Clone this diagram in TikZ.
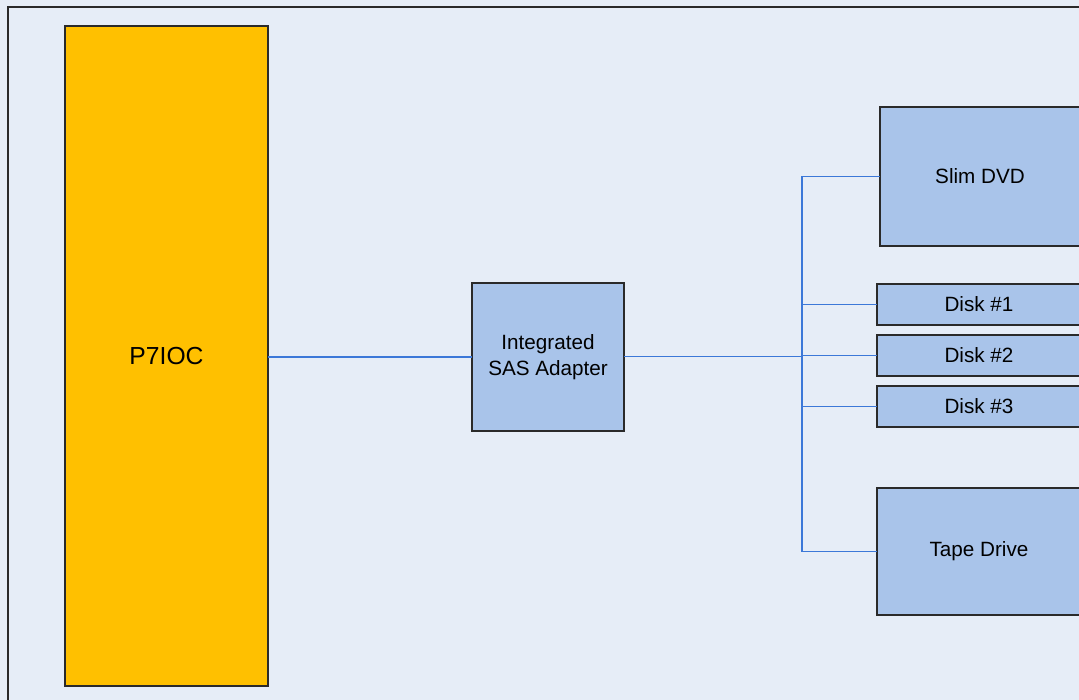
\documentclass[tikz,border=0pt]{standalone}
\usepackage{fontspec}
\setmainfont{Liberation Sans}
\definecolor{bgblue}{HTML}{E6EDF7}
\definecolor{boxblue}{HTML}{A9C4EA}
\definecolor{ioc}{HTML}{FFC000}
\definecolor{linkblue}{HTML}{3C78D8}
\definecolor{edge}{HTML}{2A2A2A}
\tikzset{
  box/.style={draw=edge, line width=0.9pt, fill=boxblue, inner sep=0pt, outer sep=0pt,
    font=\fontsize{15.5}{19}\selectfont, align=center},
  link/.style={draw=linkblue, line width=0.8pt}
}
\begin{document}
\begin{tikzpicture}[x=0.75pt,y=-0.75pt]
\useasboundingbox (0,0) rectangle (1079,700);
\clip (0,0) rectangle (1079,700);
\fill[bgblue] (0,0) rectangle (1079,700);
\draw[edge, line width=1.1pt, fill=bgblue] (8,7) rectangle (1120,740);
\node[box, fill=ioc, minimum width=152.25pt, minimum height=495pt,
  font=\fontsize{18.5}{22}\selectfont] (p7) at (166.5,356) {P7IOC};
\node[box, minimum width=114pt, minimum height=111pt] (sas) at (548,357) {Integrated\\SAS Adapter};
\node[box, minimum width=150pt, minimum height=104.25pt] (dvd) at (980,176.5) {Slim DVD};
\node[box, minimum width=153pt, minimum height=30.75pt] (d1) at (979,304.5) {Disk \#1};
\node[box, minimum width=153pt, minimum height=30.75pt] (d2) at (979,355.5) {Disk \#2};
\node[box, minimum width=153pt, minimum height=30.75pt] (d3) at (979,406.5) {Disk \#3};
\node[box, minimum width=153pt, minimum height=95.25pt] (tape) at (979,551.5) {Tape Drive};
\coordinate (bus) at (802,356.5);
\coordinate (p7out) at (p7.east |- 0,357);
\draw[link] (p7out) -- (p7out -| sas.west);
\draw[link] (sas.east |- bus) -- (bus);
\draw[link] (bus) |- (dvd.west);
\draw[link] (bus) |- (d1.west);
\draw[link] (bus) |- (d2.west);
\draw[link] (bus) |- (d3.west);
\draw[link] (bus) |- (tape.west);
\end{tikzpicture}
\end{document}
